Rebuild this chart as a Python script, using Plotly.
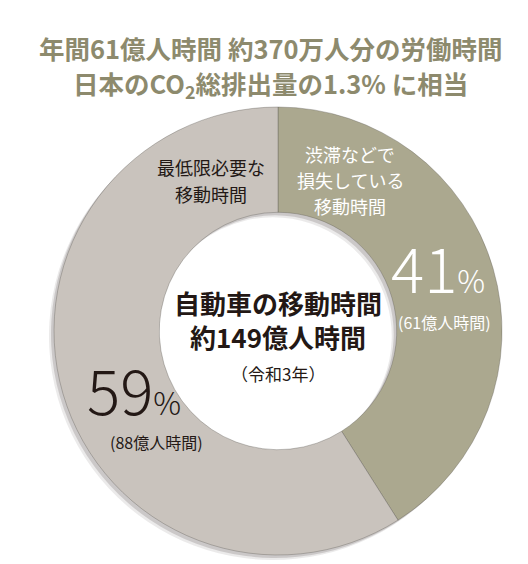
#
# Donut chart: 自動車の移動時間
#
import plotly.graph_objects as go

W, H = 528, 564

# data
categories = ["渋滞などで損失している移動時間", "最低限必要な移動時間"]
shares = [41, 59]            # %
hours = [61, 88]             # 億人時間
total_hours = 149            # 億人時間
slice_colors = ["#aba88f", "#c9c3bd"]

title_lines = ["年間61億人時間 約370万人分の労働時間",
               "日本のCO<sub>2</sub>総排出量の1.3% に相当"]
center_lines = ["自動車の移動時間", f"約{total_hours}億人時間", "（令和3年）"]
lost_label = ["渋滞などで", "損失している", "移動時間"]
need_label = ["最低限必要な", "移動時間"]

JP = "Noto Sans CJK JP"
DARK = "#231815"
OLIVE = "#8d8a6d"

# donut geometry in pixels
cx, cy, r = 270, 323, 224


def dom(dx=0, dy=0):
    return dict(x=[(cx - r + dx) / W, (cx + r + dx) / W],
                y=[(H - cy - r - dy) / H, (H - cy + r - dy) / H])


fig = go.Figure()

# soft shadow (two layers)
for off, alpha in [(5, 0.10), (3, 0.18)]:
    fig.add_trace(go.Pie(values=shares, labels=categories, sort=False,
                         direction="clockwise", hole=0.53,
                         marker=dict(colors=[f"rgba(60,50,50,{alpha})"] * 2),
                         textinfo="none", hoverinfo="skip", showlegend=False,
                         domain=dom(-off, off)))

fig.add_trace(go.Pie(values=shares, labels=categories, sort=False,
                     direction="clockwise", hole=0.53,
                     marker=dict(colors=slice_colors, line=dict(color="rgba(90,85,80,0.35)", width=1)),
                     textinfo="none", showlegend=False, domain=dom()))


def px(x, y):
    # small lift: the CJK font sits a little low in its box
    return x / W, 1 - (y - 5) / H


ann = []


def add(text, x, y, size, color, weight="normal", xanchor="center"):
    ax, ay = px(x, y)
    ann.append(dict(text=text, x=ax, y=ay, xref="paper", yref="paper",
                    xanchor=xanchor, yanchor="middle", showarrow=False,
                    font=dict(family=JP, size=size, color=color, weight=weight)))


# title
add(title_lines[0], 263, 44, 25.5, OLIVE, "bold")
add(title_lines[1], 262, 81, 25.5, OLIVE, "bold")

# center
add(center_lines[0], 270, 299, 26, DARK, "bold")
add(center_lines[1], 270, 333, 26, DARK, "bold")
add(center_lines[2], 270, 370, 17, DARK)

# slice labels
for i, line in enumerate(lost_label):
    add(line, 342, 151 + i * 26, 18, "white")
for i, line in enumerate(need_label):
    add(line, 203, 164 + i * 27, 18, DARK)

add(f"{shares[0]}<span style='font-size:31px'>%</span>", 430, 263, 62, "white", 300)
add(f"({hours[0]}億人時間)", 436, 319, 16, "white")
add(f"{shares[1]}<span style='font-size:31px'>%</span>", 126, 385, 62, DARK, 300)
add(f"({hours[1]}億人時間)", 148, 439, 16, DARK)

fig.update_layout(width=W, height=H, margin=dict(l=0, r=0, t=0, b=0),
                  paper_bgcolor="white", plot_bgcolor="white",
                  annotations=ann)

fig.write_html("out.html")
